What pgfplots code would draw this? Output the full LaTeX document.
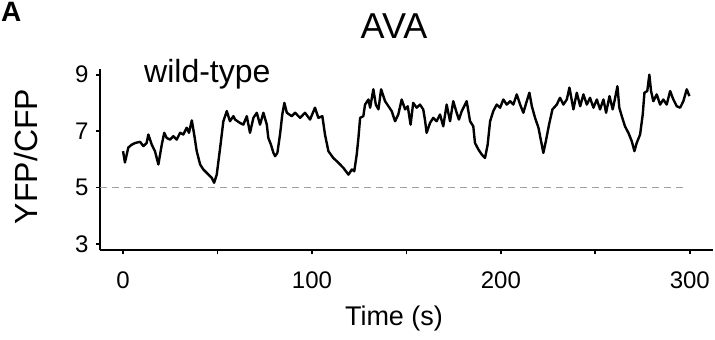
\documentclass[border=0pt]{standalone}
\usepackage{pgfplots}
\pgfplotsset{compat=1.18}
\usepackage{fontspec}
\setmainfont{Liberation Sans}
\begin{document}
\begin{tikzpicture}[x=1bp,y=1bp]
\begin{axis}[
  at={(0,0)}, anchor=south west,
  scale only axis, width=613bp, height=181bp,
  xmin=-12.2, xmax=312.3, ymin=2.79, ymax=9.2,
  axis x line*=bottom, axis y line*=left,
  axis line style={line width=2.5bp},
  xtick={0,100,200,300}, minor xtick={50,150,250},
  ytick={3,5,7,9},
  tick align=outside,
  major tick length=4bp, minor tick length=4bp,
  every tick/.style={black, line width=1.8bp},
  every minor tick/.style={black, line width=1.8bp},
  ticklabel style={font=\fontsize{24bp}{28bp}\selectfont},
  xticklabel style={yshift=-14bp},
  yticklabel style={xshift=-4bp},
  /pgf/number format/assume math mode=true,
  clip=false,
]
\addplot[draw={rgb,255:red,160;green,160;blue,160}, line width=1.3bp, dash pattern=on 7bp off 5bp] coordinates {(-12.2,5) (298.5,5)};
\addplot[black, line width=2.4bp, line join=round] coordinates {
(0,6.29) (1,5.89) (2.8,6.42) (4.6,6.52) (6.4,6.58) (9,6.62) (10.8,6.47) (12.5,6.58) (13.4,6.88) (15.2,6.52) (16.9,6.29) (18.7,5.82) (20.5,6.52) (21.8,6.94) (23.1,6.76) (24.9,6.70) (26.6,6.82) (28.4,6.70) (30.2,6.94) (31.9,6.88) (33.7,7.12) (34.9,6.94) (36.4,7.38) (37.8,6.82) (39,6.29) (40.8,5.82) (42.5,5.64) (45.2,5.46) (47,5.34) (48.2,5.17) (49.6,5.46) (51.4,6.41) (53.1,7.35) (54.9,7.71) (56.6,7.35) (58.4,7.53) (59.3,7.41) (61.9,7.29) (63.7,7.23) (65.5,7.53) (67.2,6.94) (69,7.47) (70.8,7.65) (72.5,7.23) (74.3,7.65) (76.1,7.23) (76.9,6.76) (78.3,6.52) (79.6,6.23) (80.5,6.11) (81.7,6.23) (83.1,6.88) (84.3,7.59) (85.4,8.0) (86.7,7.65) (89.3,7.53) (91.1,7.65) (93.7,7.47) (96.3,7.65) (99,7.41) (101.6,7.83) (103.4,7.47) (105.5,7.53) (106.9,6.88) (108.7,6.29) (111.3,6.05) (114,5.88) (116.6,5.70) (119.3,5.46) (121.1,5.64) (122.4,5.58) (123.7,6.17) (124.6,6.76) (125.5,7.47) (127.2,7.53) (128.1,7.94) (129.9,8.12) (130.8,7.83) (132.5,8.48) (133.8,7.94) (135.2,7.77) (136.6,8.48) (138.7,8.06) (140.5,7.88) (142.2,7.71) (144,7.35) (145.7,7.59) (147.5,8.12) (149.3,7.77) (150.7,7.88) (152.2,7.23) (153.6,8.0) (155.4,7.83) (157.2,7.94) (158.9,7.77) (159.8,7.41) (160.7,6.94) (162.5,7.29) (164.2,7.47) (166,7.35) (167.8,7.59) (169.5,7.17) (171.3,7.94) (173.1,7.35) (174.8,8.06) (176.6,7.65) (177.8,7.41) (179.3,7.71) (181.9,8.06) (183.7,7.35) (185.4,7.17) (186.3,6.58) (188.1,6.35) (189.9,6.17) (191.6,6.05) (193,6.52) (194.3,7.35) (196,7.71) (197.8,7.94) (199.6,7.83) (201.3,8.12) (203.1,7.94) (204.9,8.06) (206.6,7.94) (208.4,8.30) (210.2,7.94) (211.9,7.65) (213.7,8.06) (215.1,8.36) (216.4,7.88) (218.1,7.47) (219.9,7.12) (221.3,6.64) (222.5,6.23) (223.8,6.64) (225.5,7.23) (227.3,7.77) (229.6,7.94) (231.3,8.18) (233.1,7.94) (234.9,8.12) (236.3,8.54) (238.4,7.77) (240.2,8.36) (242,7.88) (243.7,8.30) (245.5,7.94) (247.2,8.18) (249,7.83) (250.8,8.12) (252.5,7.77) (254.3,8.12) (255.7,7.65) (257.5,8.24) (259.2,7.77) (260.5,8.18) (261.7,8.59) (262.7,7.83) (264,7.53) (265.7,7.17) (267.5,6.94) (269.3,6.64) (270.7,6.29) (271.9,6.58) (273.7,6.88) (275.1,7.59) (276,8.36) (277.5,8.42) (278.6,9.0) (279.5,8.42) (280.7,8.06) (282.5,8.30) (284.3,7.94) (286,8.12) (287.8,7.94) (289.6,8.42) (291.3,8.12) (293.1,7.88) (294.9,7.83) (296.6,8.06) (298.4,8.48) (299.8,8.24)
};
\end{axis}
\node[anchor=base, inner sep=0pt, font=\fontsize{36bp}{40bp}\selectfont] at (294,212) {AVA};
\node[anchor=base west, inner sep=0pt, font=\fontsize{32bp}{36bp}\selectfont] at (44,168) {wild-type};
\node[anchor=base, inner sep=0pt, font=\fontsize{27bp}{31bp}\selectfont] at (294,-75) {Time (s)};
\node[anchor=base, rotate=90, inner sep=0pt, font=\fontsize{32bp}{36bp}\selectfont] at (-62,93.5) {YFP/CFP};
\node[anchor=base west, inner sep=0pt, font=\bfseries\fontsize{28bp}{31bp}\selectfont] at (-99,229) {A};
\pgfresetboundingbox
\path[use as bounding box] (-100,-89) rectangle (615,250);
\end{tikzpicture}
\end{document}
